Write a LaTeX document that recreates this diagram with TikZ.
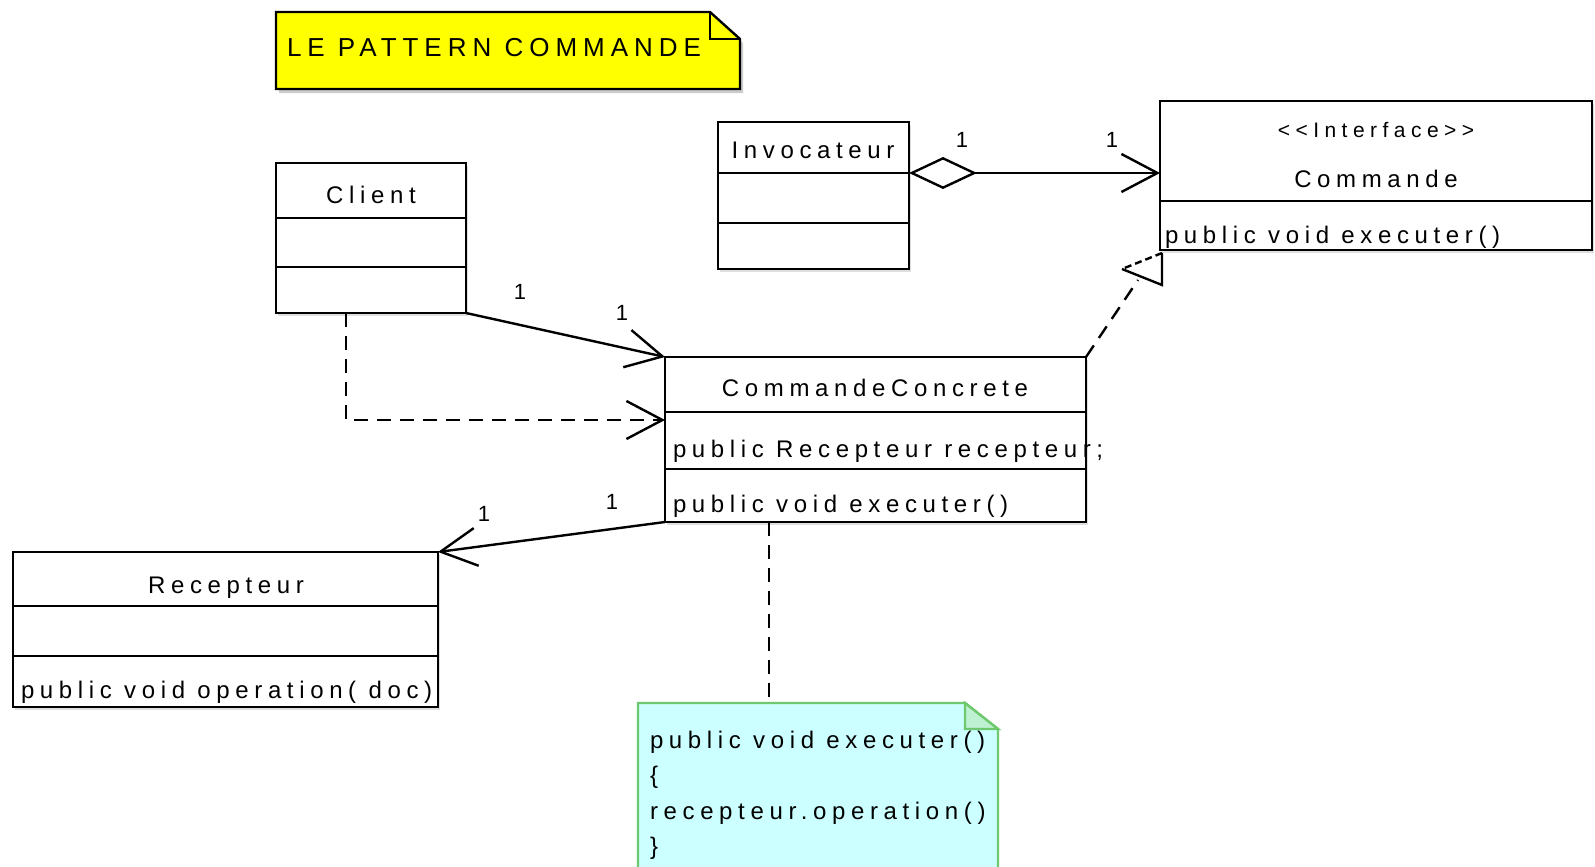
\documentclass[tikz,border=0pt]{standalone}
\usepackage{fontspec}
\newfontfamily\umlf[LetterSpace=23.5]{Liberation Sans}
\newfontfamily\umlft[LetterSpace=23]{Liberation Sans}
\newfontfamily\umlfw[LetterSpace=26]{Liberation Sans}
\usetikzlibrary{arrows.meta,shadows}
\definecolor{notey}{RGB}{255,255,0}
\definecolor{notec}{RGB}{204,255,255}
\definecolor{noteg}{RGB}{110,200,110}
\definecolor{foldc}{RGB}{190,240,210}
\begin{document}
\begin{tikzpicture}[x=1pt,y=-1pt,line width=2.4pt,
  every node/.style={inner sep=0pt,outer sep=0pt},
  box/.style={draw=black,fill=white,anchor=north west,line width=2.4pt,
    drop shadow={shadow xshift=2pt,shadow yshift=-3pt,opacity=0.25}},
  lbl/.style={font=\umlf\fontsize{24}{28}\selectfont},
  stereo/.style={font=\umlfw\fontsize{21}{24}\selectfont},
  titlef/.style={font=\umlft\fontsize{26}{30}\selectfont},
  mult/.style={font=\umlf\fontsize{22}{26}\selectfont},
  barb/.style={-{Straight Barb[length=36pt,width=38pt,line width=2.4pt]}},
  dashline/.style={dash pattern=on 14pt off 9pt}]
\useasboundingbox (0,0) rectangle (1595,867);
\fill[white] (0,0) rectangle (1595,867);
\clip (0,0) rectangle (1595,867);

% title note
\fill[black!20] (279,16) -- (713,16) -- (743,43) -- (743,93) -- (279,93) -- cycle;
\draw[fill=notey] (276,12) -- (710,12) -- (740,39) -- (740,89) -- (276,89) -- cycle;
\draw (710,12) -- (710,39) -- (740,39);
\node[titlef,anchor=base west] (title) at (287,57) {LE PATTERN COMMANDE};

% Client
\node[box,minimum width=190pt,minimum height=150pt] (client) at (276,163) {};
\draw (276,218) -- (466,218);
\draw (276,267) -- (466,267);
\node[lbl,anchor=base] (clientname) at (371,203) {Client};

% Invocateur
\node[box,minimum width=191pt,minimum height=147pt] (inv) at (718,122) {};
\draw (718,173) -- (909,173);
\draw (718,223) -- (909,223);
\node[lbl,anchor=base] (invname) at (813,158) {Invocateur};

% Commande
\node[box,minimum width=432pt,minimum height=149pt] (cmd) at (1160,101) {};
\draw (1160,201) -- (1592,201);
\node[stereo,anchor=base] (cmdst) at (1376,137) {<<Interface>>};
\node[lbl,anchor=base] (cmdname) at (1376,187) {Commande};
\node[lbl,anchor=base west] (cmdop) at (1165,243) {public void executer()};

% CommandeConcrete
\node[box,minimum width=421pt,minimum height=165pt] (cc) at (665,357) {};
\draw (665,412) -- (1086,412);
\draw (665,469) -- (1086,469);
\node[lbl,anchor=base] (ccname) at (875,396) {CommandeConcrete};
\node[lbl,anchor=base west] (ccattr) at (673,457) {public Recepteur recepteur;};
\node[lbl,anchor=base west] (ccop) at (673,512) {public void executer()};

% Recepteur
\node[box,minimum width=425pt,minimum height=155pt] (rec) at (13,552) {};
\draw (13,606) -- (438,606);
\draw (13,656) -- (438,656);
\node[lbl,anchor=base] (recname) at (226,593) {Recepteur};
\node[lbl,anchor=base west] (recop) at (21,698) {public void operation( doc)};

% code note
\draw[draw=noteg,fill=notec] (638,703) -- (965,703) -- (998,729) -- (998,890) -- (638,890) -- cycle;
\draw[draw=noteg,fill=foldc] (965,703) -- (965,729) -- (998,729) -- cycle;
\node[lbl,anchor=base west] (nl1) at (650,748) {public void executer()};
\node[lbl,anchor=base west] (nl2) at (650,783) {\{};
\node[lbl,anchor=base west] (nl3) at (650,819) {recepteur.operation()};
\node[lbl,anchor=base west] (nl4) at (650,854) {\}};

% connectors
\draw[barb] (client.south east) -- (cc.north west);
\coordinate (depS) at (346,313);
\coordinate (depM) at (346,420);
\draw[barb,dashline] (depS) -- (depM) -- (cc.west |- depM);

\coordinate (dL) at (909,173);
\draw[{Diamond[open,fill=white,length=68pt,width=32pt,line width=2.4pt]}-{Straight Barb[length=36pt,width=38pt,line width=2.4pt]}] (dL) -- (cmd.west |- dL);

\draw[barb] (cc.south west) -- (rec.north east);

\coordinate (realEnd) at (1138,280);
\draw[dashline] (cc.north east) -- (realEnd);
\coordinate (triA) at (1162,253);
\coordinate (triB) at (1122,269);
\coordinate (triC) at (1162,285);
\draw[dash pattern=on 7pt off 4pt] (triA) -- (triB);
\draw (triB) -- (triC) -- (triA);

\coordinate (ncA) at (769,522);
\coordinate (ncB) at (769,703);
\draw[dashline] (ncA) -- (ncB);

% multiplicities
\node[mult] (m1) at (520,292) {1};
\node[mult] (m2) at (622,313) {1};
\node[mult] (m3) at (962,140) {1};
\node[mult] (m4) at (1112,140) {1};
\node[mult] (m5) at (484,514) {1};
\node[mult] (m6) at (612,502) {1};
\end{tikzpicture}
\end{document}
